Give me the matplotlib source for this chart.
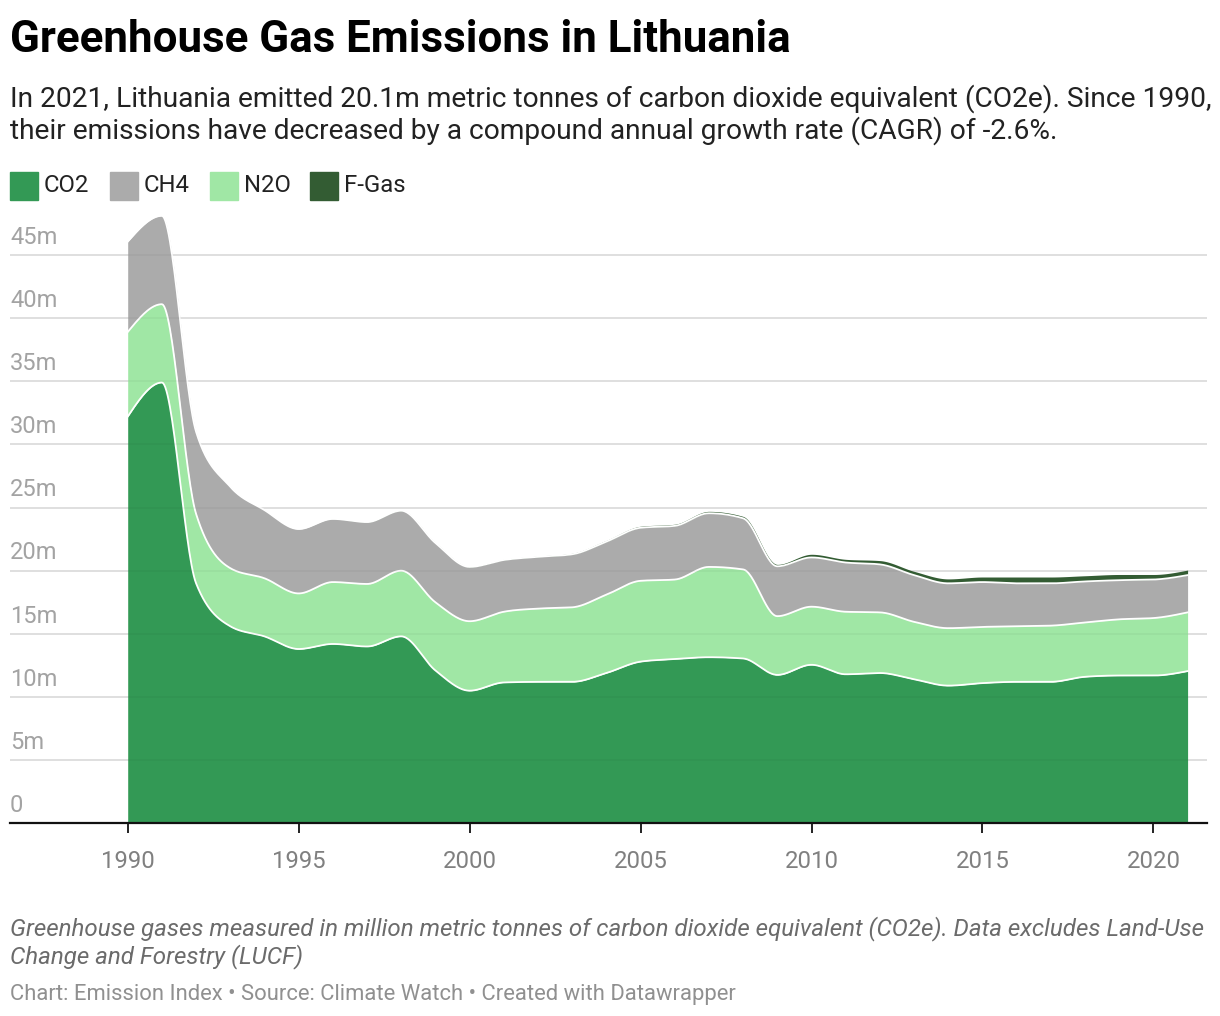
import numpy as np
import matplotlib
matplotlib.use("Agg")
import matplotlib.pyplot as plt
from matplotlib.patches import Rectangle

plt.rcParams['font.family'] = ['Roboto', 'DejaVu Sans']

# data (million tonnes CO2e)
years = list(range(1990, 2022))
co2 = [32.2, 34.9, 19.0, 15.6, 14.8, 13.8, 14.2, 14.0, 14.8, 12.1,
       10.5, 11.15, 11.2, 11.2, 11.9, 12.8, 13.0, 13.15, 13.05, 11.75,
       12.55, 11.8, 11.9, 11.4, 10.9, 11.1, 11.2, 11.2, 11.6, 11.7,
       11.7, 12.05]
n2o = [6.7, 6.2, 5.5, 4.6, 4.6, 4.4, 4.9, 4.95, 5.2, 5.4,
       5.5, 5.6, 5.8, 5.9, 6.2, 6.4, 6.3, 7.15, 7.05, 4.65,
       4.6, 4.95, 4.8, 4.55, 4.55, 4.45, 4.4, 4.45, 4.3, 4.45,
       4.55, 4.65]
ch4 = [7.15, 7.0, 6.5, 6.45, 5.4, 5.1, 5.0, 4.9, 4.75, 4.7,
       4.3, 4.1, 4.1, 4.2, 4.2, 4.2, 4.25, 4.25, 4.05, 3.95,
       3.9, 3.9, 3.8, 3.7, 3.55, 3.55, 3.4, 3.35, 3.25, 3.1,
       3.05, 2.95]
fgas = [0.0, 0.0, 0.0, 0.0, 0.0, 0.0, 0.01, 0.02, 0.03, 0.03,
        0.04, 0.05, 0.06, 0.08, 0.1, 0.12, 0.13, 0.15, 0.15, 0.15,
        0.25, 0.25, 0.3, 0.3, 0.35, 0.4, 0.5, 0.5, 0.45, 0.45,
        0.4, 0.4]

series_names = ["CO2", "CH4", "N2O", "F-Gas"]
colors = {"CO2": "#339955", "CH4": "#ababab", "N2O": "#a0e7a5", "F-Gas": "#335c33"}


def monotone_x(x, y, steps=30):
    # same idea as d3.curveMonotoneX
    x = np.asarray(x, float)
    y = np.asarray(y, float)
    h = np.diff(x)
    s = np.diff(y) / h
    t = np.zeros(len(x))
    for i in range(1, len(x) - 1):
        s0, s1 = s[i - 1], s[i]
        p = (s0 * h[i] + s1 * h[i - 1]) / (h[i - 1] + h[i])
        t[i] = (np.sign(s0) + np.sign(s1)) * min(abs(s0), abs(s1), 0.5 * abs(p))
    t[0] = (3 * s[0] - t[1]) / 2
    t[-1] = (3 * s[-1] - t[-2]) / 2
    xs, ys = [], []
    for i in range(len(x) - 1):
        u = np.linspace(0, 1, steps, endpoint=False)
        h00 = 2 * u**3 - 3 * u**2 + 1
        h10 = u**3 - 2 * u**2 + u
        h01 = -2 * u**3 + 3 * u**2
        h11 = u**3 - u**2
        xs.append(x[i] + u * h[i])
        ys.append(h00 * y[i] + h10 * h[i] * t[i] + h01 * y[i + 1] + h11 * h[i] * t[i + 1])
    xs.append([x[-1]])
    ys.append([y[-1]])
    return np.concatenate(xs), np.concatenate(ys)


c1 = np.array(co2)
c2 = c1 + np.array(n2o)
c3 = c2 + np.array(ch4)
c4 = c3 + np.array(fgas)

xs, b1 = monotone_x(years, c1)
_, b2 = monotone_x(years, c2)
_, b3 = monotone_x(years, c3)
_, b4 = monotone_x(years, c4)

fig = plt.figure(figsize=(12.2, 10.16), dpi=100)
ax = fig.add_axes([10 / 1220, 1 - 823.3 / 1016, 1197 / 1220, 623.3 / 1016])

x0 = 1990 - 117.7 / 34.19
x1 = 1990 + 1079.3 / 34.19
ax.set_xlim(x0, x1)
ax.set_ylim(0, 623.3 / 12.63)

# gridlines
for v in range(5, 50, 5):
    ax.axhline(v, color="#e3e3e3", lw=1.2, zorder=1)

ax.fill_between(xs, 0, b1, color=colors["CO2"], lw=0, zorder=2)
ax.fill_between(xs, b1, b2, color=colors["N2O"], lw=0, zorder=2)
ax.fill_between(xs, b2, b3, color=colors["CH4"], lw=0, zorder=2)
ax.fill_between(xs, b3, b4, color=colors["F-Gas"], lw=0, zorder=2)
for b in (b1, b2, b3):
    ax.plot(xs, b, color="white", lw=1.3, zorder=3)
# faint gridlines showing through the areas
for v in range(5, 50, 5):
    ax.axhline(v, color="black", alpha=0.035, lw=1.2, zorder=3.5)

# y labels sit above the gridlines
for v in range(0, 50, 5):
    lab = "0" if v == 0 else f"{v}m"
    ax.annotate(lab, xy=(0, v), xycoords=("axes fraction", "data"),
                xytext=(0, 4.5), textcoords="offset points",
                ha="left", va="bottom", fontsize=17, color="#a3a3a3", zorder=4)

for side in ("left", "right", "top"):
    ax.spines[side].set_visible(False)
ax.spines["bottom"].set_color("#111111")
ax.spines["bottom"].set_linewidth(1.6)
ax.spines["bottom"].set_zorder(5)
ax.set_yticks([])
ax.set_xticks(range(1990, 2021, 5))
ax.tick_params(axis="x", length=7.5, width=1.3, color="#111111", pad=11.5,
               labelsize=17.2, labelcolor="#808080")

# title block
fig.text(10 / 1220, 1 - 52 / 1016, "Greenhouse Gas Emissions in Lithuania",
         fontsize=31.6, fontweight="bold", color="#000000", ha="left", va="baseline")
fig.text(10 / 1220, 1 - 107 / 1016,
         "In 2021, Lithuania emitted 20.1m metric tonnes of carbon dioxide equivalent (CO2e). Since 1990,",
         fontsize=20.22, color="#222222", ha="left", va="baseline")
fig.text(10 / 1220, 1 - 139 / 1016,
         "their emissions have decreased by a compound annual growth rate (CAGR) of -2.6%.",
         fontsize=20.22, color="#222222", ha="left", va="baseline")

# legend
leg_x = [10, 110, 210, 310]
for name, lx in zip(series_names, leg_x):
    fig.patches.append(Rectangle((lx / 1220, 1 - 200 / 1016), 28 / 1220, 28 / 1016,
                                 transform=fig.transFigure, color=colors[name]))
    fig.text((lx + 34) / 1220, 1 - 192.5 / 1016, name, fontsize=17.2,
             color="#222222", ha="left", va="baseline")

# notes
fig.text(10 / 1220, 1 - 935 / 1016,
         "Greenhouse gases measured in million metric tonnes of carbon dioxide equivalent (CO2e). Data excludes Land-Use",
         fontsize=17.42, style="italic", color="#6b6b6b", ha="left", va="baseline")
fig.text(10 / 1220, 1 - 963 / 1016, "Change and Forestry (LUCF)",
         fontsize=17.42, style="italic", color="#6b6b6b", ha="left", va="baseline")
fig.text(10 / 1220, 1 - 1000 / 1016,
         "Chart: Emission Index \u2022 Source: Climate Watch \u2022 Created with Datawrapper",
         fontsize=15.8, color="#909090", ha="left", va="baseline")

fig.savefig("out.png", dpi=100, facecolor="white")
